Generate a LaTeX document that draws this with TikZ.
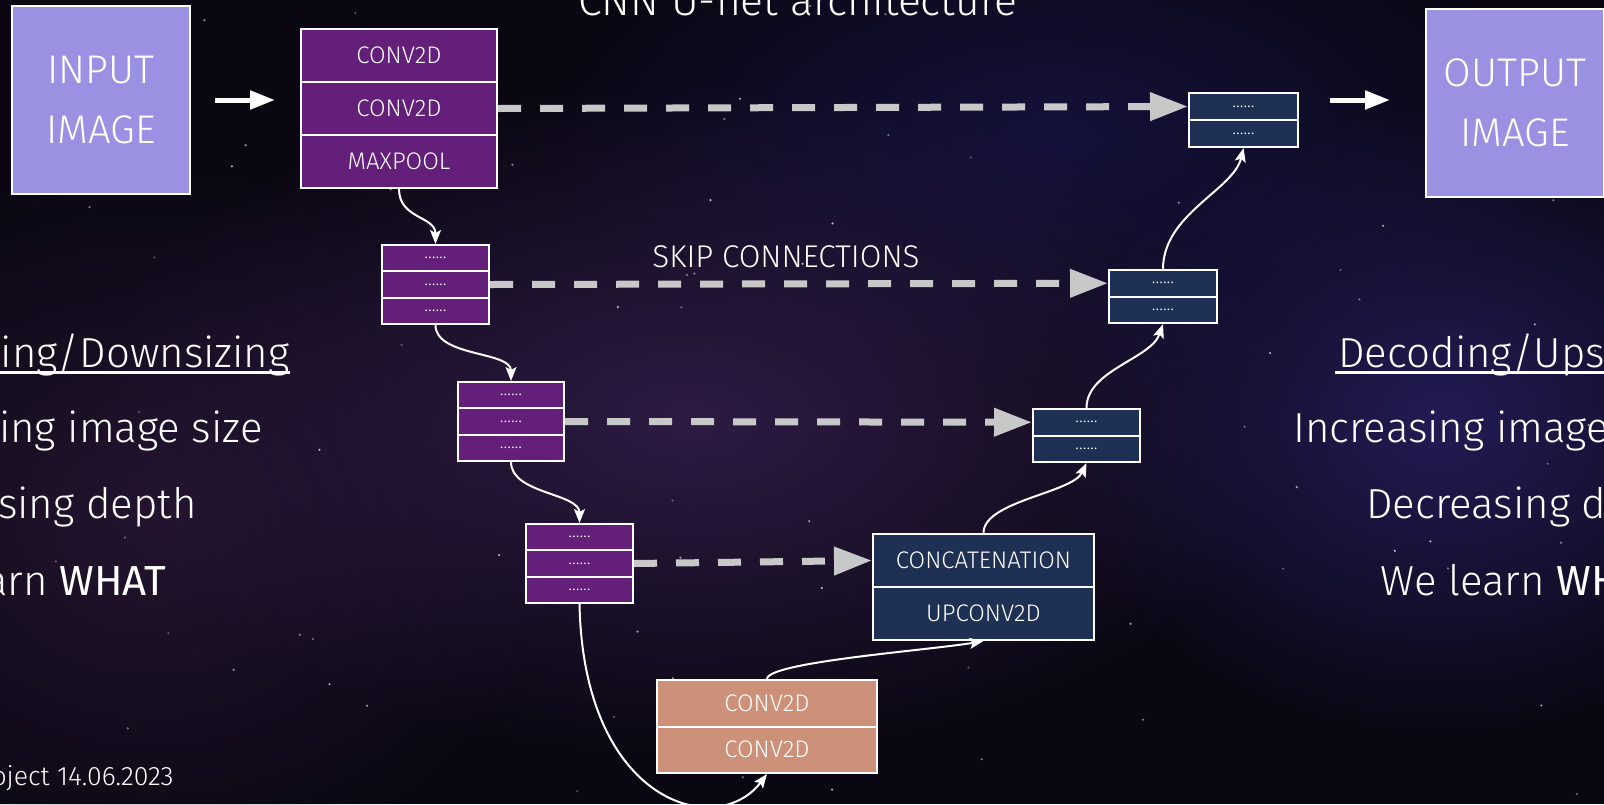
\documentclass[tikz,border=0pt]{standalone}
\usepackage{fontspec}
\setmainfont{Fira Sans Light}[BoldFont={Fira Sans}]
\usetikzlibrary{arrows.meta,fadings}
\definecolor{bgc}{HTML}{0A0712}
\definecolor{glowP}{HTML}{2E1B44}
\definecolor{glowB}{HTML}{221C55}
\definecolor{glowT}{HTML}{15123C}
\definecolor{glowL}{HTML}{24142F}
\definecolor{encP}{HTML}{631F79}
\definecolor{decN}{HTML}{1E3053}
\definecolor{botO}{HTML}{CD9079}
\definecolor{lav}{HTML}{9B91E2}
\definecolor{dashgray}{HTML}{C8C8C8}
\tikzfading[name=glowfade, inner color=transparent!0, outer color=transparent!100]
\begin{document}
\begin{tikzpicture}[x=0.5pt,y=-0.5pt,
  rowbox/.style={draw=white, line width=1pt, inner sep=0pt, anchor=north west, text=white},
  encrow/.style={rowbox, fill=encP, font=\fontsize{9}{9}\selectfont},
  decrow/.style={rowbox, fill=decN, font=\fontsize{9}{9}\selectfont},
  bigrow/.style={font=\fontsize{12}{14}\selectfont},
  imgbox/.style={draw=white, line width=1pt, fill=lav, text=white, inner sep=0pt, anchor=north west,
    minimum width=89pt, minimum height=94pt, align=center, font=\fontsize{20}{30}\selectfont},
  sidetext/.style={text=white, inner sep=0pt, font=\fontsize{21}{24}\selectfont},
  flow/.style={draw=white, line width=1pt, -{Stealth[length=7pt,width=5.5pt,inset=1.5pt]}},
  bigarrow/.style={draw=white, line width=2.5pt, -{Triangle[length=12.5pt,width=9pt]}},
  skipline/.style={draw=dashgray, line width=3.5pt, dash pattern=on 11.5pt off 9.5pt,
    -{Triangle[length=19pt,width=13.5pt]}}
]
\useasboundingbox (0,0) rectangle (1604,804);
\clip (0,0) rectangle (1604,804);
% background
\fill[bgc] (0,0) rectangle (1604,804);
\fill[glowL, path fading=glowfade] (150,520) ellipse (420 and 360);
\fill[glowT, path fading=glowfade] (1050,140) ellipse (520 and 260);
\fill[glowP, path fading=glowfade] (690,420) ellipse (620 and 340);
\fill[glowB, path fading=glowfade] (1440,420) ellipse (400 and 320);
\pgfmathsetseed{42}
\foreach \i in {1,...,80}{
  \pgfmathsetmacro\sx{rnd*1604}
  \pgfmathsetmacro\sy{rnd*804}
  \pgfmathsetmacro\so{0.25+0.5*rnd}
  \fill[white, opacity=\so] (\sx,\sy) circle (0.6pt);
}

% title
\node[text=white, anchor=base, inner sep=0pt, font=\fontsize{21.3}{24}\selectfont] (title) at (798,15) {CNN U-net architecture};

% input / output
\node[imgbox] (inp) at (11,5) {INPUT\\IMAGE};
\node[imgbox] (outimg) at (1425,8) {OUTPUT\\IMAGE};

% encoder block 1
\node[rowbox, fill=encP, bigrow, minimum width=98pt, minimum height=26.5pt] (e1a) at (300,28) {CONV2D};
\node[rowbox, fill=encP, bigrow, minimum width=98pt, minimum height=26.5pt] (e1b) at (300,81) {CONV2D};
\node[rowbox, fill=encP, bigrow, minimum width=98pt, minimum height=26.5pt] (e1c) at (300,134) {MAXPOOL};
% encoder block 2
\node[encrow, minimum width=53.5pt, minimum height=13.17pt] (e2a) at (381,244) {......};
\node[encrow, minimum width=53.5pt, minimum height=13.17pt] (e2b) at (381,270.33) {......};
\node[encrow, minimum width=53.5pt, minimum height=13.17pt] (e2c) at (381,296.67) {......};
% encoder block 3
\node[encrow, minimum width=53pt, minimum height=13.17pt] (e3a) at (457,381) {......};
\node[encrow, minimum width=53pt, minimum height=13.17pt] (e3b) at (457,407.33) {......};
\node[encrow, minimum width=53pt, minimum height=13.17pt] (e3c) at (457,433.67) {......};
% encoder block 4
\node[encrow, minimum width=53.5pt, minimum height=13.17pt] (e4a) at (525,523) {......};
\node[encrow, minimum width=53.5pt, minimum height=13.17pt] (e4b) at (525,549.33) {......};
\node[encrow, minimum width=53.5pt, minimum height=13.17pt] (e4c) at (525,575.67) {......};
% bottleneck
\node[rowbox, fill=botO, bigrow, minimum width=110pt, minimum height=23.25pt] (or1) at (656,679) {CONV2D};
\node[rowbox, fill=botO, bigrow, minimum width=110pt, minimum height=23.25pt] (or2) at (656,725.5) {CONV2D};
% decoder concat
\node[rowbox, fill=decN, bigrow, minimum width=110.5pt, minimum height=26.5pt] (cc1) at (872,533) {CONCATENATION};
\node[rowbox, fill=decN, bigrow, minimum width=110.5pt, minimum height=26.5pt] (cc2) at (872,586) {UPCONV2D};
% decoder 3
\node[decrow, minimum width=53.5pt, minimum height=13.25pt] (d3a) at (1032,408) {......};
\node[decrow, minimum width=53.5pt, minimum height=13.25pt] (d3b) at (1032,434.5) {......};
% decoder 2
\node[decrow, minimum width=54pt, minimum height=13.25pt] (d2a) at (1108,269) {......};
\node[decrow, minimum width=54pt, minimum height=13.25pt] (d2b) at (1108,295.5) {......};
% decoder 1
\node[decrow, minimum width=54.5pt, minimum height=13.5pt] (d1a) at (1188,92) {......};
\node[decrow, minimum width=54.5pt, minimum height=13.5pt] (d1b) at (1188,119) {......};

% skip label
\node[text=white, anchor=base, inner sep=0pt, font=\fontsize{15.7}{18}\selectfont] (skl) at (786,267) {SKIP CONNECTIONS};

% skip connections
\draw[skipline] (e1b.east) -- (d1a.west);
\draw[skipline] (e2b.east) -- (d2a.west);
\draw[skipline] (e3b.east) -- (d3a.west);
\draw[skipline] (e4b.east) -- (cc1.west);

% big arrows
\draw[bigarrow, shorten <=12pt, shorten >=12.5pt] (inp.east) -- (inp.east -| e1a.west);
\draw[bigarrow, shorten <=15.5pt, shorten >=17.5pt] (d1a.east |- inp.east) -- (outimg.west |- inp.east);

% flow connectors
\draw[flow] (e1c.south) .. controls +(0,30) and +(0,-28) .. (e2a.north);
\draw[flow] (e2c.south) .. controls +(0,32) and +(0,-30) .. (e3a.north);
\draw[flow] (e3c.south) .. controls +(0,32) and +(0,-30) .. (e4a.north);
\draw[flow] (e4c.south) .. controls +(4,200) and +(-50,66) .. (or2.south);
\draw[flow] (or1.north) .. controls +(0,-17) and +(-52,9) .. (cc2.south);
\draw[flow] (cc1.north) .. controls +(0,-32) and +(-14,30) .. (d3b.south);
\draw[flow] (d3a.north) .. controls +(0,-38) and +(-12,35) .. (d2b.south);
\draw[flow] (d2a.north) .. controls +(0,-55) and +(-10,42) .. (d1b.south);

% side texts left
\node[sidetext, anchor=base east] (l1) at (290,367) {ing/Downsizing};
\draw[white, line width=1.5pt] ([yshift=-2.5pt, xshift=-40pt]l1.base west) -- ([yshift=-2.5pt]l1.base east);
\node[sidetext, anchor=base east] (l2) at (263,442) {ing image size};
\node[sidetext, anchor=base east] (l3) at (197,518) {sing depth};
\node[sidetext, anchor=base east] (l4) at (167,595) {arn \textbf{WHAT}};
\node[text=white, inner sep=0pt, anchor=base east, font=\fontsize{13.3}{15}\selectfont] (foot) at (174,785) {oject 14.06.2023};
% side texts right
\node[sidetext, anchor=base west] (r1) at (1338,367) {Decoding/Ups};
\draw[white, line width=1.5pt] ([yshift=-2.5pt, xshift=-1.5pt]r1.base west) -- ([yshift=-2.5pt, xshift=40pt]r1.base east);
\node[sidetext, anchor=base west] (r2) at (1293,442) {Increasing image};
\node[sidetext, anchor=base west] (r3) at (1366,518) {Decreasing d};
\node[sidetext, anchor=base west] (r4) at (1380,595) {We learn \textbf{WH}};
\end{tikzpicture}
\end{document}
